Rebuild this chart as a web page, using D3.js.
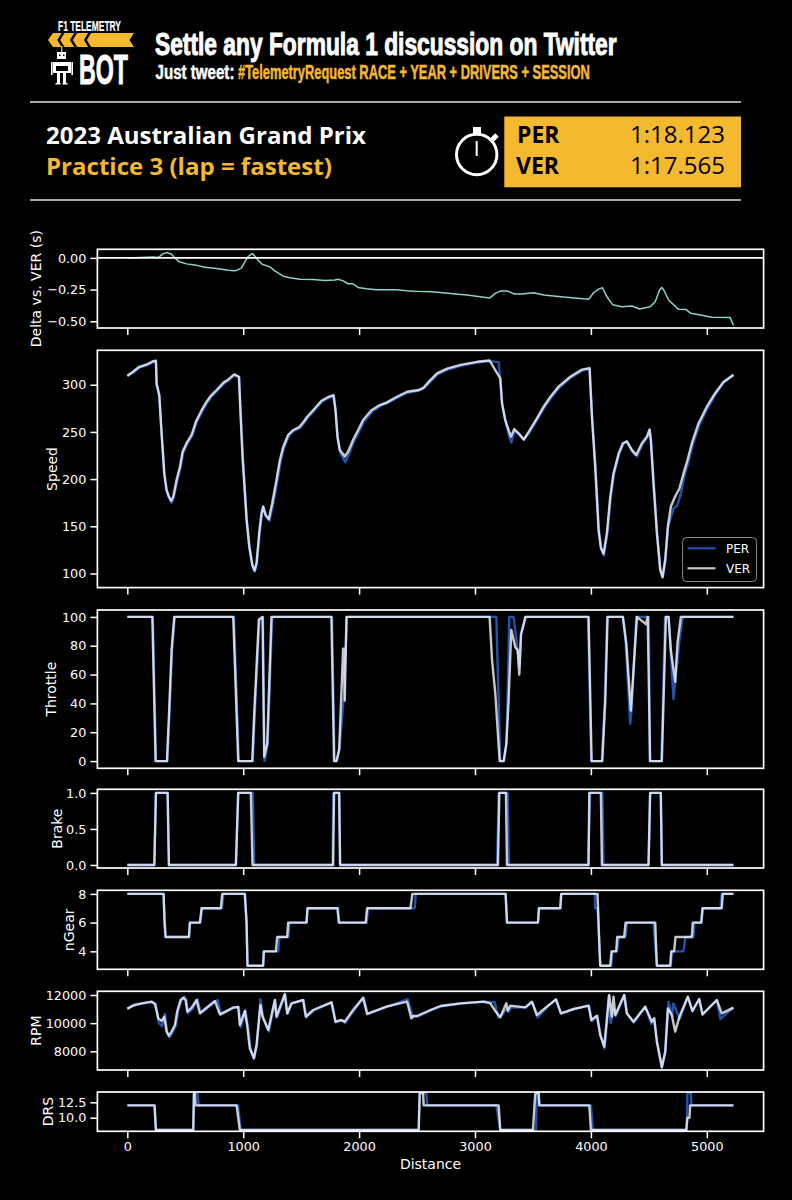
<!DOCTYPE html>
<html><head><meta charset="utf-8">
<script src="https://cdn.jsdelivr.net/npm/d3@7"></script>
<style>html,body{margin:0;padding:0;background:#000}svg{display:block}</style>
</head><body><svg id="c" width="792" height="1200"></svg>
<script>
const deltaDist=[0,224,267,310,345,382,411,448,511,583,670,770,871,928,957,986,1014,1043,1078,1101,1129,1164,1230,1273,1345,1402,1489,1603,1704,1790,1819,1862,1905,1948,1991,2063,2149,2322,2437,2500,2629,2787,2931,3126,3175,3218,3282,3339,3405,3506,3592,3764,3980,4023,4066,4100,4138,4187,4267,4353,4420,4511,4555,4592,4612,4632,4670,4756,4822,4862,4957,5043,5201,5230];
const deltaVals=[0,.008,.003,.034,.042,.029,0,-.031,-.047,-.055,-.073,-.084,-.097,-.102,-.092,-.079,-.031,.013,.034,.013,-.018,-.05,-.071,-.102,-.144,-.157,-.168,-.17,-.178,-.175,-.168,-.181,-.204,-.204,-.233,-.243,-.251,-.251,-.262,-.264,-.267,-.28,-.293,-.317,-.28,-.262,-.262,-.285,-.285,-.275,-.293,-.309,-.327,-.275,-.246,-.236,-.306,-.369,-.385,-.38,-.403,-.385,-.346,-.254,-.233,-.259,-.332,-.406,-.408,-.437,-.453,-.469,-.471,-.531];

const speedDistVER=[0,52,103,167,224,247,253,276,296,319,339,359,379,397,425,454,477,511,555,592,641,684,718,770,828,871,922,963,974,994,1029,1052,1078,1098,1115,1138,1158,1172,1192,1221,1250,1282,1316,1345,1388,1431,1483,1523,1552,1603,1675,1733,1779,1796,1813,1833,1876,1905,1948,2006,2034,2106,2178,2236,2322,2414,2514,2557,2600,2672,2759,2874,3017,3126,3175,3218,3233,3261,3290,3310,3339,3376,3420,3463,3534,3592,3649,3721,3822,3922,3988,4009,4037,4066,4086,4109,4138,4167,4195,4239,4276,4310,4353,4391,4440,4483,4506,4517,4540,4569,4598,4618,4641,4664,4690,4727,4764,4799,4833,4871,4928,5000,5072,5144,5230];
const speedVER=[309.5,314,319,321.5,325,325.4,301,289,248.5,206,188.5,181.5,177,181.5,199,213,229,238,247,261,273,282,288,294.4,302,305.6,311,308.5,277,224,157,128.6,109,103,111,143,164,171,162,157.5,174.4,195.6,220,234,247,252,255,261,266,273,283,287,289,273,245,231,224,229,241.4,255.5,262.6,273,278.5,281,287,292.6,294.4,297,303,312,317,321,324.3,325.7,315.5,306.7,280,262.6,252,245,253,248.5,242,250,264.4,276.7,287,298,308.5,316,317.6,266,213,146,127,121,143,181.5,206,227,238,240,231,225.6,238,245,252.7,241,195.6,143,104,96,114.5,150,171,181.5,190,206,220,238,259,276.7,291,303,310.6];
const speedDistPER=[0,52,103,167,224,247,253,276,296,319,339,359,382,400,430,460,483,517,561,598,648,690,724,776,834,877,925,966,977,997,1032,1055,1081,1101,1118,1142,1162,1178,1198,1228,1258,1290,1324,1352,1395,1437,1489,1529,1558,1610,1680,1738,1782,1799,1816,1836,1880,1912,1956,2014,2042,2114,2184,2242,2328,2420,2520,2562,2606,2678,2765,2880,3020,3126,3204,3218,3236,3266,3296,3313,3342,3380,3422,3468,3540,3598,3656,3728,3828,3928,3990,4011,4040,4070,4090,4112,4142,4171,4199,4243,4280,4313,4358,4397,4445,4486,4508,4520,4543,4572,4600,4620,4643,4666,4713,4745,4775,4808,4842,4878,4935,5006,5076,5148,5230];
const speedPER=[309,313,318,320.5,324,324.6,300,288,248,205,187,180,175,180,198,212,228,237,246,260,272,281,287,293.5,301,304.8,310,308,276,223,156,128,108,102,110,142,163,170,161,156,173,194,219,233,246,251,254,260,265,272,282,286,288,272,244,228,218,226,240,254,261,271.5,277.5,280.5,286,291.5,293.8,296.5,302,311,316,320,323.5,325,324,306,279,260,245,239,251,247.5,241.5,249,263.5,275.5,286,297,307.5,315,317.2,265,212,145,126,119,142,180,205,226,237.5,239.5,229,224,237,244,252,240,195,142,103,96,114,149,169,172,184,204,218,236,257,275,290,302.5,310];

const throttleDistVER=[0,216,244,342,359,382,405,914,957,1078,1095,1135,1167,1181,1207,1244,1761,1784,1805,1828,1862,1870,1876,1891,3126,3147,3175,3213,3247,3270,3290,3313,3348,3368,3382,3397,3420,3434,3980,4006,4098,4124,4144,4276,4305,4345,4397,4474,4490,4511,4612,4647,4670,4690,4727,4747,4776,5230];
const throttleVER=[100,100,0,0,31,77,100,100,0,0,33,98,100,3,12,100,100,0,0,8,78,78,42,100,100,70,47,0,0,12,42,91,79,77,60,88,95,100,100,0,0,42,100,100,82,35,100,95,100,0,0,100,100,77,55,82,100,100];
const throttleDistPER=[0,220,248,346,363,386,410,920,962,1083,1100,1140,1170,1184,1212,1250,1766,1788,1808,1830,1868,1895,3155,3184,3218,3250,3272,3296,3333,3385,3397,3420,3440,3975,4003,4094,4120,4140,4276,4300,4339,4350,4392,4500,4508,4608,4640,4670,4713,4764,4793,5230];
const throttlePER=[100,100,0,0,31,77,100,100,0,0,33,98,100,0,12,100,100,0,0,8,45,100,100,100,0,0,12,100,100,65,88,95,100,100,0,0,42,100,100,82,26,35,100,100,0,0,100,100,43,84,100,100];

const brakeDistVER=[0,233,247,348,359,937,957,1066,1080,1776,1784,1828,1836,3198,3210,3267,3276,3980,3986,4086,4095,4497,4511,4603,4612,5230];
const brakeVER=[0,0,1,1,0,0,1,1,0,0,1,1,0,0,1,1,0,0,1,1,0,0,1,1,0,0];
const brakeDistPER=[0,233,247,348,359,937,957,1083,1095,1770,1778,1828,1836,3190,3204,3282,3293,3974,3994,4100,4109,4497,4511,4603,4612,5230];
const brakePER=[0,0,1,1,0,0,1,1,0,0,1,1,0,0,1,1,0,0,1,1,0,0,1,1,0,0];

const gearDistVER=[0,313,322,330,532,540,626,641,807,819,1014,1029,1037,1172,1178,1282,1293,1379,1388,1546,1555,1813,1825,2057,2069,2443,2460,3264,3276,3543,3552,3736,3744,4057,4075,4080,4167,4178,4218,4227,4287,4299,4555,4569,4684,4693,4718,4730,4871,4879,4951,4963,5129,5138,5230];
const gearVER=[8,8,6,5,5,6,6,7,7,8,8,6,3,3,4,4,5,5,6,6,7,7,6,6,7,7,8,8,6,6,7,7,8,8,4,3,3,4,4,5,5,6,6,3,3,4,4,5,5,6,6,7,7,8,8];
const gearDistPER=[0,313,322,330,532,540,632,645,817,829,1014,1029,1037,1172,1178,1302,1312,1391,1400,1546,1555,1818,1830,2066,2078,2480,2489,3264,3276,3543,3552,3736,3744,4035,4037,4058,4075,4085,4175,4185,4225,4240,4299,4312,4540,4569,4690,4700,4799,4815,4885,4893,4955,4967,5118,5128,5230];
const gearPER=[8,8,6,5,5,6,6,7,7,8,8,6,3,3,4,4,5,5,6,6,7,7,6,6,7,7,8,8,6,6,7,7,8,8,7,7,4,3,3,4,4,5,5,6,6,3,3,4,4,5,5,6,6,7,7,8,8];

const rpmDistVER=[0,52,124,210,239,267,296,319,339,359,382,411,431,460,483,503,517,555,598,626,670,756,799,914,957,971,1014,1034,1057,1092,1115,1149,1167,1216,1273,1287,1345,1359,1379,1417,1517,1540,1603,1761,1796,1848,1876,1948,2034,2069,2236,2414,2451,2466,2500,2615,2701,2874,3075,3132,3175,3218,3270,3282,3305,3434,3491,3534,3620,3698,3741,3851,3980,4003,4052,4080,4115,4138,4158,4181,4195,4210,4287,4310,4368,4468,4526,4546,4569,4612,4641,4664,4698,4727,4764,4836,4876,4934,4963,5086,5129,5230];
const rpmVER=[11030,11243,11408,11527,11361,10343,10154,10462,9396,9112,9396,9870,10864,11645,11811,11645,10817,11100,11645,10698,11006,11574,10627,11100,11148,9870,10864,9870,8213,7503,8449,11290,10462,9515,11645,10462,11763,12071,10698,11408,11645,10462,10935,11479,10106,10225,10106,10935,11811,10651,11172,11527,10343,10509,10509,10935,11219,11408,11527,11408,10864,10414,11408,10900,11243,11124,11527,10580,11172,11692,10698,11006,11243,10225,10533,9160,8331,10343,12000,10462,11882,10580,12000,10698,10106,11172,10106,10343,8686,6864,7976,11053,10580,9396,10462,11882,10864,11716,10627,11645,10698,11100];
const rpmDistPER=[0,60,130,215,245,272,300,325,345,365,388,418,438,468,495,510,525,565,606,635,680,780,808,914,962,978,1020,1040,1062,1095,1118,1149,1172,1222,1276,1292,1350,1362,1384,1420,1520,1545,1610,1765,1800,1852,1880,1955,2040,2075,2240,2420,2465,2480,2510,2620,2710,2880,3080,3170,3200,3225,3272,3290,3310,3440,3495,3540,3625,3700,3745,3855,3985,4008,4056,4085,4118,4142,4150,4170,4198,4215,4290,4312,4370,4470,4520,4546,4572,4612,4643,4670,4700,4712,4767,4836,4876,4934,4963,5086,5118,5230];
const rpmPER=[11000,11350,11400,11500,11360,10000,9800,10650,9300,8990,9300,9800,10850,11640,11880,11600,10700,11050,11700,10700,11000,11650,10600,11100,11140,9700,10900,9800,8200,7480,8450,11700,10400,9400,11640,10400,11760,12050,10650,11400,11640,10400,10900,11470,10050,10200,10000,10900,11800,10640,11160,11700,10400,10480,10480,10900,11200,11400,11520,11480,10400,10500,11000,10800,11100,11120,11500,10400,11160,11680,10680,11000,11240,10150,10500,9100,8200,10300,11900,10000,11000,10500,12000,10650,10050,11160,9950,10330,8650,6850,7950,11500,10500,11400,10300,11860,10850,11700,10600,11640,10300,11100];

const drsDistVER=[0,235,247,569,575,583,589,943,971,2514,2523,2552,2557,3204,3218,3500,3520,3549,3555,3986,4000,4822,4833,4851,4856,5230];
const drsVER=[12,12,8,8,14,14,12,12,8,8,14,14,12,12,8,8,14,14,12,12,8,8,10,10,12,12];
const drsDistPER=[0,235,247,569,575,606,615,955,978,2514,2523,2580,2586,3184,3218,3526,3534,3549,3555,4000,4017,4828,4833,4862,4868,5230];
const drsPER=[12,12,8,8,14,14,12,12,8,8,14,14,12,12,8,8,14,14,12,12,8,8,14,14,12,12];

const xTicks=[0,1000,2000,3000,4000,5000];
const YELLOW="#f4b92f", PERC="#2453ab", VERC="#ffffff", DELTAC="#8dd3c7";
const svg=d3.select("#c");
svg.append("rect").attr("width",792).attr("height",1200).attr("fill","#000");
const x=d3.scaleLinear().domain([-258,5490]).range([97.4,763.6]);
const defs=svg.append("defs");

function panel(o,i){
  const y=d3.scaleLinear().domain(o.domain).range([o.bottom,o.top]);
  const g=svg.append("g");
  const id="clip"+i;
  defs.append("clipPath").attr("id",id).append("rect").attr("x",97.4).attr("y",o.top).attr("width",666.2).attr("height",o.bottom-o.top);
  const plot=g.append("g").attr("clip-path",`url(#${id})`);
  const line=d3.line().x(d=>x(d[0])).y(d=>y(d[1]));
  o.series.forEach(s=>{
    plot.append("path").datum(d3.zip(s.d,s.v)).attr("d",line).attr("fill","none")
      .attr("stroke",s.c).attr("stroke-width",s.w).attr("stroke-opacity",s.a).attr("stroke-linejoin","round");
  });
  if(o.zero) plot.append("line").attr("x1",97.4).attr("x2",763.6).attr("y1",y(0)).attr("y2",y(0)).attr("stroke","#fff").attr("stroke-width",1.7);
  const ay=g.append("g").attr("transform","translate(97.4,0)").call(d3.axisLeft(y).tickValues(o.ticks).tickFormat(o.fmt).tickSize(7).tickPadding(4));
  const ax=g.append("g").attr("transform",`translate(0,${o.bottom})`).call(d3.axisBottom(x).tickValues(xTicks).tickSize(7).tickPadding(4).tickFormat(o.last?d3.format("d"):""));
  [ay,ax].forEach(a=>{a.select(".domain").remove();
    a.selectAll("line").attr("stroke","#fff").attr("stroke-width",1.5);
    a.selectAll("text").attr("fill","#fff").attr("font-family","DejaVu Sans").attr("font-size",12.8);});
  g.append("rect").attr("x",97.4).attr("y",o.top).attr("width",666.2).attr("height",o.bottom-o.top).attr("fill","none").attr("stroke","#fff").attr("stroke-width",1.7);
  g.append("text").attr("transform",`translate(${o.lx},${(o.top+o.bottom)/2}) rotate(-90)`).attr("text-anchor","middle")
    .attr("dominant-baseline","central").attr("fill","#fff").attr("font-family","DejaVu Sans").attr("font-size",14).text(o.label);
}
const two=(dv,v,dp,p,w=2.4)=>[{d:dp,v:p,c:PERC,w:w,a:1},{d:dv,v:v,c:VERC,w:w,a:.78}];
[
 {label:"Delta vs. VER (s)",lx:36,top:249.3,bottom:328,domain:[-.553,.068],ticks:[0,-.25,-.5],fmt:d=>d3.format(".2f")(d).replace("-","−"),zero:true,
  series:[{d:deltaDist,v:deltaVals,c:DELTAC,w:1.5,a:1}]},
 {label:"Speed",lx:51.5,top:350.3,bottom:587.6,domain:[85,336.5],ticks:[100,150,200,250,300],fmt:d3.format("d"),series:two(speedDistVER,speedVER,speedDistPER,speedPER)},
 {label:"Throttle",lx:50.5,top:610,bottom:768.3,domain:[-5,104.8],ticks:[0,20,40,60,80,100],fmt:d3.format("d"),series:two(throttleDistVER,throttleVER,throttleDistPER,throttlePER)},
 {label:"Brake",lx:57,top:789.3,bottom:868,domain:[-.042,1.05],ticks:[0,.5,1],fmt:d3.format(".1f"),series:two(brakeDistVER,brakeVER,brakeDistPER,brakePER)},
 {label:"nGear",lx:68.5,top:890.3,bottom:969.3,domain:[2.75,8.25],ticks:[4,6,8],fmt:d3.format("d"),series:two(gearDistVER,gearVER,gearDistPER,gearPER)},
 {label:"RPM",lx:35.5,top:991.3,bottom:1070,domain:[6672,12263],ticks:[8000,10000,12000],fmt:d3.format("d"),series:two(rpmDistVER,rpmVER,rpmDistPER,rpmPER)},
 {label:"DRS",lx:48,top:1092,bottom:1131.3,domain:[7.8,14.17],ticks:[10,12.5],fmt:d3.format(".1f"),last:true,series:two(drsDistVER,drsVER,drsDistPER,drsPER)}
].forEach(panel);

const txt=(s,xx,yy,size,fill,opt={})=>{const t=svg.append("text").attr("x",xx).attr("y",yy).attr("font-size",size).attr("fill",fill)
  .attr("font-family",opt.f||"Open Sans").attr("font-weight",opt.b||400).attr("text-anchor",opt.anchor||"start").text(s);
  if(opt.len){const n=t.node().getComputedTextLength();t.attr("x",0).attr("y",0).attr("transform",`translate(${xx},${yy}) scale(${opt.len/n},1)`);}
  if(opt.st)t.attr("stroke",fill).attr("stroke-width",opt.st);return t;};
txt("Distance",430.5,1169,14,"#fff",{f:"DejaVu Sans",anchor:"middle"});

// legend
svg.append("rect").attr("x",682.6).attr("y",537.5).attr("width",74).attr("height",44).attr("rx",4).attr("fill","#000").attr("stroke","#8a8a8a").attr("stroke-width",1);
svg.append("line").attr("x1",687.5).attr("x2",715.5).attr("y1",548.3).attr("y2",548.3).attr("stroke",PERC).attr("stroke-width",2.2);
svg.append("line").attr("x1",687.5).attr("x2",715.5).attr("y1",568.3).attr("y2",568.3).attr("stroke","#c8c8c8").attr("stroke-width",2.2);
txt("PER",726,553.3,12,"#fff",{f:"DejaVu Sans"});
txt("VER",726,573.3,12,"#fff",{f:"DejaVu Sans"});

// header
const cond="Liberation Sans";
txt("Settle any Formula 1 discussion on Twitter",155,55,30.5,"#fff",{f:cond,b:700,len:462,st:1});
txt("Just tweet:",155.5,79,19.5,"#fff",{f:cond,b:700,len:79,st:.5});
txt("#TelemetryRequest RACE + YEAR + DRIVERS + SESSION",238,79,19.5,YELLOW,{f:cond,b:700,len:352,st:.5});
txt("F1 TELEMETRY",58,31,14,"#fff",{f:cond,b:700,len:63,st:.2});
txt("BOT",79,84,43,"#fff",{f:cond,b:700,len:49,st:1});
svg.append("path").attr("fill",YELLOW).attr("d","M53 33H134L129.5 40L134 47H53L48 40Z");
[60.7,73.3,87.3].forEach(v=>svg.append("path").attr("fill","none").attr("stroke","#000").attr("stroke-width",2.4).attr("d",`M${v+3} 32L${v-2} 40L${v+3} 48`));
// robot
const rb=svg.append("g").attr("fill","#fff");
[[57,52,9,7],[53,62,18,11],[57,73,3,10],[63,73,3,10],[55.5,83,5,1.5],[62.5,83,5,1.5],[51,62,1.6,13],[71.4,62,1.6,13],[61.3,46,1,6]].forEach(r=>rb.append("rect").attr("x",r[0]).attr("y",r[1]).attr("width",r[2]).attr("height",r[3]));
svg.append("rect").attr("x",56).attr("y",66).attr("width",12).attr("height",5).attr("fill","#000");
[[59,54.5],[63,54.5]].forEach(p=>svg.append("rect").attr("x",p[0]).attr("y",p[1]).attr("width",1.5).attr("height",1.5).attr("fill","#000"));

svg.append("line").attr("x1",30).attr("x2",741).attr("y1",102).attr("y2",102).attr("stroke","#e0e0e0").attr("stroke-width",1.7);
svg.append("line").attr("x1",30).attr("x2",741).attr("y1",200).attr("y2",200).attr("stroke","#e0e0e0").attr("stroke-width",1.7);
txt("2023 Australian Grand Prix",46,143.5,23,"#fff",{b:700,len:320});
txt("Practice 3 (lap = fastest)",46,174.5,23,YELLOW,{b:700,len:286});
svg.append("rect").attr("x",504.3).attr("y",116.5).attr("width",236.7).attr("height",70.8).attr("fill",YELLOW);
txt("PER",517,143,23,"#000",{b:700});
txt("VER",516,174,23,"#000",{b:700});
txt("1:18.123",725,143,24,"#000",{anchor:"end"});
txt("1:17.565",725,174,24,"#000",{anchor:"end"});
// stopwatch
svg.append("circle").attr("cx",476.7).attr("cy",154.5).attr("r",20.2).attr("fill","none").attr("stroke","#fff").attr("stroke-width",3);
svg.append("rect").attr("x",473).attr("y",127).attr("width",8).attr("height",8).attr("fill","#fff");
svg.append("line").attr("x1",476.7).attr("x2",476.7).attr("y1",141).attr("y2",156).attr("stroke","#fff").attr("stroke-width",2);
svg.append("line").attr("x1",491).attr("x2",497).attr("y1",141).attr("y2",135).attr("stroke","#fff").attr("stroke-width",5);
</script></body></html>
